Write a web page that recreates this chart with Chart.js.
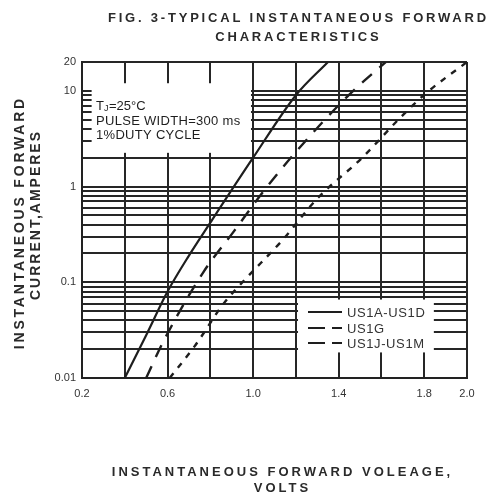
<!DOCTYPE html>
<html>
<head>
<meta charset="utf-8">
<script src="https://cdn.jsdelivr.net/npm/chart.js@4"></script>
<style>
    body { margin: 0; background: #fff; }
    #chart { display: block; }
</style>
</head>
<body>
<canvas id="chart" width="489" height="497"></canvas>
<script>
// values
const voltsA = [0.40, 0.50, 0.60, 0.70, 0.80, 1.00, 1.20, 1.35];
const ampsA = [0.01, 0.028, 0.08, 0.19, 0.42, 2, 9, 20];

const voltsG = [0.50, 0.58, 0.77, 0.91, 1.05, 1.20, 1.44, 1.62];
const ampsG = [0.01, 0.024, 0.13, 0.34, 0.9, 2.3, 8.7, 20];

const voltsJ = [0.61, 0.73, 0.86, 0.95, 1.14, 1.30, 1.51, 1.69, 1.81, 2.0];
const ampsJ = [0.01, 0.022, 0.059, 0.1, 0.28, 0.75, 2.0, 5.3, 9.5, 20];

const seriesNames = ['US1A-US1D', 'US1G', 'US1J-US1M'];

const xLabels = ['0.2', '0.6', '1.0', '1.4', '1.8', '2.0'];
const yGridValues = [0.01, 0.02, 0.03, 0.04, 0.05, 0.06, 0.07, 0.08, 0.09,
    0.1, 0.2, 0.3, 0.4, 0.5, 0.6, 0.7, 0.8, 0.9,
    1, 2, 3, 4, 5, 6, 7, 8, 9, 10, 20];
const yLabels = [0.01, 0.1, 1, 10, 20];

const titleLines = ['FIG. 3-TYPICAL INSTANTANEOUS FORWARD', 'CHARACTERISTICS'];
const xTitleLines = ['INSTANTANEOUS FORWARD VOLEAGE,', 'VOLTS'];
const yTitleLines = ['INSTANTANEOUS FORWARD', 'CURRENT,AMPERES'];
const noteLines = ['PULSE WIDTH=300 ms', '1%DUTY CYCLE'];

const FONT = '"Liberation Sans", Arial, sans-serif';
const INK = '#1e1e1e';

function pts(xs, ys) {
    return xs.map((v, i) => ({ x: v, y: ys[i] }));
}

function spaced(ctx, text, x, y, spacing) {
    ctx.letterSpacing = spacing + 'px';
    // canvas adds trailing spacing, shift back half of it for centering
    ctx.fillText(text, x + spacing / 2, y);
    ctx.letterSpacing = '0px';
}

const decor = {
    id: 'decor',
    beforeDatasetsDraw(chart) {
        const { ctx, scales: { x, y } } = chart;
        ctx.save();
        ctx.fillStyle = '#fff';
        // gaps in the grid behind the note and the key
        const boxes = [
            [0.245, 0.99, 12, 2.25],
            [1.21, 1.845, 0.066, 0.0185],
        ];
        boxes.forEach(b => {
            const x0 = x.getPixelForValue(b[0]);
            const x1 = x.getPixelForValue(b[1]);
            const y0 = y.getPixelForValue(b[2]);
            const y1 = y.getPixelForValue(b[3]);
            ctx.fillRect(x0, y0, x1 - x0, y1 - y0);
        });
        ctx.restore();
    },
    afterDraw(chart) {
        const { ctx } = chart;
        ctx.save();
        ctx.fillStyle = '#2a2a2a';
        ctx.textAlign = 'center';
        ctx.textBaseline = 'middle';

        ctx.font = 'bold 13px ' + FONT;
        spaced(ctx, titleLines[0], 297, 18, 2.8);
        spaced(ctx, titleLines[1], 297, 37, 2.8);

        spaced(ctx, xTitleLines[0], 281, 472, 3);
        spaced(ctx, xTitleLines[1], 281, 488, 3);

        ctx.save();
        ctx.translate(20, 224);
        ctx.rotate(-Math.PI / 2);
        ctx.font = 'bold 14px ' + FONT;
        spaced(ctx, yTitleLines[0], 0, 0, 2.8);
        ctx.restore();
        ctx.save();
        ctx.translate(36, 216);
        ctx.rotate(-Math.PI / 2);
        ctx.font = 'bold 14px ' + FONT;
        spaced(ctx, yTitleLines[1], 0, 0, 2);
        ctx.restore();

        // test conditions note
        ctx.textAlign = 'left';
        ctx.fillStyle = INK;
        ctx.font = '13px ' + FONT;
        ctx.fillText('T', 96, 106);
        ctx.font = '9px ' + FONT;
        ctx.fillText('J', 104, 109);
        ctx.font = '13px ' + FONT;
        ctx.fillText('=25°C', 109, 106);
        ctx.letterSpacing = '0.3px';
        ctx.fillText(noteLines[0], 96, 121);
        ctx.fillText(noteLines[1], 96, 135);
        ctx.letterSpacing = '0px';

        // key
        const rows = [312, 328, 343];
        chart.data.datasets.forEach((ds, i) => {
            ctx.strokeStyle = INK;
            ctx.lineWidth = 2;
            ctx.setLineDash(i === 0 ? [] : [17, 7]);
            ctx.beginPath();
            ctx.moveTo(308, rows[i]);
            ctx.lineTo(342, rows[i]);
            ctx.stroke();
            ctx.setLineDash([]);
            ctx.fillStyle = '#333';
            ctx.font = '13px ' + FONT;
            ctx.letterSpacing = '0.6px';
            ctx.fillText(ds.label, 347, rows[i] + 1);
            ctx.letterSpacing = '0px';
        });
        ctx.restore();
    }
};

const gridStyle = {
    color: '#262626',
    lineWidth: 2,
    drawTicks: false,
};

new Chart(document.getElementById('chart'), {
    type: 'line',
    data: {
        datasets: [
            {
                label: seriesNames[0],
                data: pts(voltsA, ampsA),
                borderColor: INK,
                borderWidth: 2.2,
            },
            {
                label: seriesNames[1],
                data: pts(voltsG, ampsG),
                borderColor: INK,
                borderWidth: 2.4,
                borderDash: [13, 10],
            },
            {
                label: seriesNames[2],
                data: pts(voltsJ, ampsJ),
                borderColor: INK,
                borderWidth: 2.4,
                borderDash: [6, 7],
            },
        ],
    },
    options: {
        responsive: false,
        devicePixelRatio: 1,
        animation: false,
        layout: {
            padding: { top: 62, right: 22, left: 0, bottom: 0 },
        },
        elements: {
            point: { radius: 0 },
            line: { cubicInterpolationMode: 'monotone', fill: false },
        },
        plugins: {
            legend: { display: false },
            title: { display: false },
            tooltip: { enabled: false },
        },
        scales: {
            x: {
                type: 'linear',
                min: 0.2,
                max: 2.0,
                afterFit: s => { s.height = 119; },
                grid: gridStyle,
                border: { color: '#222', width: 2 },
                ticks: {
                    stepSize: 0.2,
                    padding: 9,
                    color: '#333',
                    font: { family: FONT, size: 11 },
                    maxRotation: 0,
                    autoSkip: false,
                    callback: v => {
                        const t = (Math.round(v * 10) / 10).toFixed(1);
                        return xLabels.includes(t) ? t : '';
                    },
                },
            },
            y: {
                type: 'logarithmic',
                min: 0.01,
                max: 20,
                afterFit: s => { s.width = 82; },
                afterBuildTicks: s => {
                    s.ticks = yGridValues.map(v => ({ value: v }));
                },
                grid: gridStyle,
                border: { color: '#222', width: 2 },
                ticks: {
                    padding: 6,
                    color: '#333',
                    font: { family: FONT, size: 11 },
                    autoSkip: false,
                    callback: v => {
                        const hit = yLabels.find(l => Math.abs(l - v) < l * 1e-6);
                        return hit === undefined ? '' : String(hit);
                    },
                },
            },
        },
    },
    plugins: [decor],
});
</script>
</body>
</html>
